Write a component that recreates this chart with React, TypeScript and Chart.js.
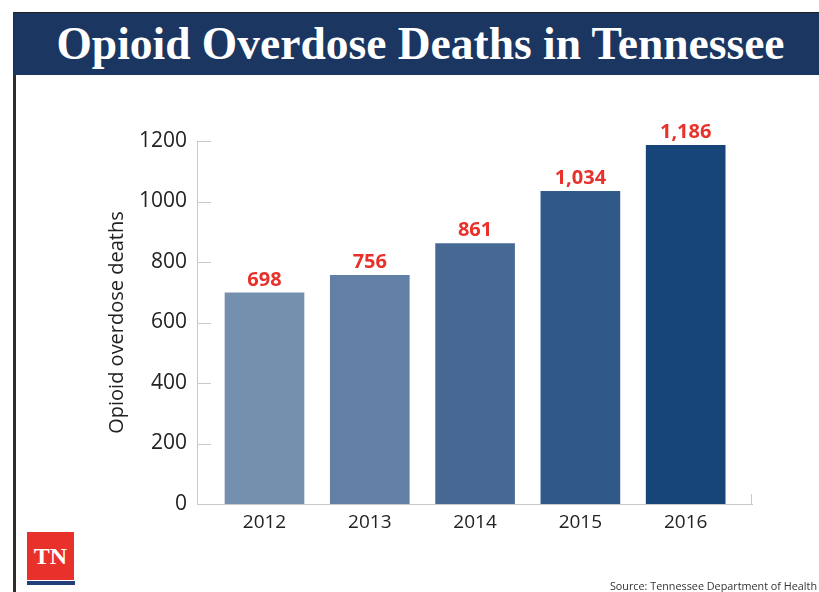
import React, { useEffect, useRef } from "react";
import { Chart, registerables } from "chart.js";

Chart.register(...registerables);

const years = ["2012", "2013", "2014", "2015", "2016"];
const deaths = [698, 756, 861, 1034, 1186];
const barColors = ["#758faf", "#627fa5", "#486894", "#305989", "#174479"];
const yTicks = [0, 200, 400, 600, 800, 1000, 1200];

const AXIS_COLOR = "#c9c9c9";

const extrasPlugin = {
  id: "extras",
  afterDatasetsDraw(chart: any) {
    const ctx = chart.ctx;
    const meta = chart.getDatasetMeta(0);
    ctx.save();
    ctx.font = "bold 20px 'Open Sans'";
    ctx.fillStyle = "#e8312a";
    ctx.textAlign = "center";
    ctx.textBaseline = "bottom";
    meta.data.forEach((bar: any, i: number) => {
      ctx.fillText(deaths[i].toLocaleString("en-US"), bar.x, bar.y - 3);
    });
    ctx.restore();
  },
  afterDraw(chart: any) {
    const ctx = chart.ctx;
    const area = chart.chartArea;
    const yScale = chart.scales.y;
    ctx.save();
    ctx.strokeStyle = AXIS_COLOR;
    ctx.lineWidth = 1;
    yTicks.forEach((t) => {
      const y = Math.round(yScale.getPixelForValue(t)) + 0.5;
      ctx.beginPath();
      ctx.moveTo(area.left, y);
      ctx.lineTo(area.left + 14, y);
      ctx.stroke();
    });
    const xr = Math.round(area.right) - 0.5;
    ctx.beginPath();
    ctx.moveTo(xr, area.bottom);
    ctx.lineTo(xr, area.bottom - 10);
    ctx.stroke();
    ctx.restore();
  },
};

function BarChart() {
  const ref = useRef<HTMLCanvasElement | null>(null);
  useEffect(() => {
    if (!ref.current) return;
    const chart = new Chart(ref.current, {
      type: "bar",
      data: {
        datasets: [
          {
            data: years.map((_, i) => ({ x: i, y: deaths[i] })) as any,
            backgroundColor: barColors,
            borderWidth: 0,
            barThickness: 79,
          },
        ],
      },
      options: {
        animation: false,
        responsive: false,
        maintainAspectRatio: false,
        layout: { padding: { left: 105, right: 67, top: 141, bottom: 0 } },
        plugins: { legend: { display: false }, tooltip: { enabled: false } },
        scales: {
          x: {
            type: "linear",
            offset: false,
            min: -0.641,
            max: 4.63,
            grid: { display: false, drawTicks: false, offset: false },
            border: { display: true, color: AXIS_COLOR, width: 1 },
            afterBuildTicks: (scale: any) => {
              scale.ticks = years.map((_, i) => ({ value: i }));
            },
            afterFit: (scale: any) => {
              scale.height = 88;
            },
            ticks: {
              autoSkip: false,
              maxRotation: 0,
              padding: 7,
              color: "#222",
              font: { family: "'Open Sans'", size: 19 },
              callback: (v: any) => years[v] ?? "",
            },
          },
          y: {
            min: 0,
            max: 1200,
            grid: { display: false, drawTicks: false },
            border: { display: true, color: AXIS_COLOR, width: 1 },
            afterBuildTicks: (scale: any) => {
              scale.ticks = yTicks.map((v) => ({ value: v }));
            },
            afterFit: (scale: any) => {
              scale.width = 92;
            },
            ticks: {
              padding: 10,
              color: "#222",
              font: { family: "'Open Sans'", size: 21 },
              callback: (v: any) => String(v),
            },
            title: {
              display: true,
              text: "Opioid overdose deaths",
              color: "#222",
              font: { family: "'Open Sans'", size: 20 },
              padding: 0,
            },
          },
        },
      },
      plugins: [extrasPlugin],
    });
    return () => chart.destroy();
  }, []);
  return (
    <canvas
      ref={ref}
      width={819}
      height={592}
      style={{ position: "absolute", left: 0, top: 0, width: 819, height: 592 }}
    />
  );
}

export default function App() {
  return (
    <div
      style={{
        position: "fixed",
        left: 0,
        top: 0,
        width: 819,
        height: 592,
        background: "#ffffff",
        overflow: "hidden",
      }}
    >
      <div
        style={{
          position: "absolute",
          left: 13,
          top: 12,
          width: 3,
          height: 580,
          background: "#2e2e2e",
        }}
      />
      <div
        style={{
          position: "absolute",
          left: 14,
          top: 12,
          width: 805,
          height: 63,
          background: "#1b3661",
          borderTop: "1px solid #222",
          boxSizing: "border-box",
        }}
      />
      <div
        style={{
          position: "absolute",
          left: 18,
          top: 12,
          width: 805,
          height: 63,
          display: "flex",
          alignItems: "center",
          justifyContent: "center",
          color: "#ffffff",
          fontFamily: "'Liberation Serif', serif",
          fontWeight: "bold",
          fontSize: 45.5,
          lineHeight: "63px",
          whiteSpace: "nowrap",
        }}
      >
        Opioid Overdose Deaths in Tennessee
      </div>
      <BarChart />
      <div
        style={{
          position: "absolute",
          left: 27,
          top: 532,
          width: 47,
          height: 48,
          background: "#e8312a",
          color: "#fff",
          fontFamily: "'Liberation Serif', serif",
          fontWeight: "bold",
          fontSize: 24,
          display: "flex",
          alignItems: "center",
          justifyContent: "center",
        }}
      >
        TN
      </div>
      <div
        style={{
          position: "absolute",
          left: 27,
          top: 581,
          width: 48,
          height: 4,
          background: "#223f7a",
        }}
      />
      <div
        style={{
          position: "absolute",
          right: 2,
          top: 578,
          fontFamily: "'Open Sans', sans-serif",
          fontSize: 10.8,
          color: "#333",
          whiteSpace: "nowrap",
        }}
      >
        Source: Tennessee Department of Health
      </div>
    </div>
  );
}
